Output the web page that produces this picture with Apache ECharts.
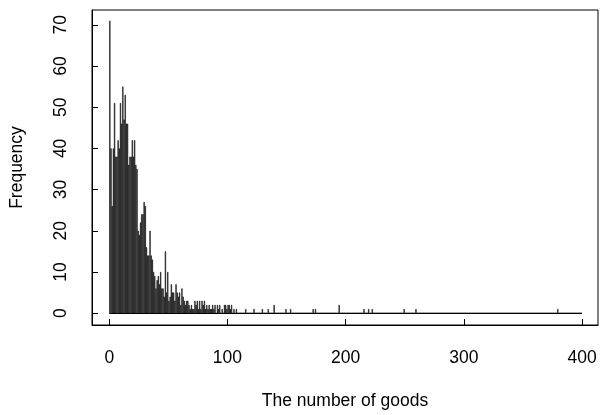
<!DOCTYPE html>
<html>
<head>
<meta charset="utf-8">
<script src="https://cdn.jsdelivr.net/npm/echarts@6/dist/echarts.min.js"></script>
<style>
  html, body { margin: 0; padding: 0; background: #fff; }
  #chart { width: 600px; height: 415px; }
</style>
</head>
<body>
<div id="chart"></div>
<script>
// Histogram of the number of goods, unit-width bins from 0 to 400.
const histStart = 0;
const histEnd = 400;
const binWidth = 1;

// Counts for the first bins (0, 1, 2, ... 105)
const headCounts = [
  71, 40, 26, 40, 51, 38, 38, 42, 40, 51,
  46, 55, 47, 53, 46, 46, 36, 38, 38, 42,
  38, 42, 36, 35, 20, 19, 22, 24, 24, 27,
  26, 16, 14, 14, 20, 14, 13, 10, 9, 6,
  8, 9, 7, 10, 6, 6, 4, 15, 5, 10,
  3, 4, 7, 5, 5, 3, 7, 5, 4, 5,
  2, 6, 4, 3, 2, 3, 3, 2, 1, 2,
  1, 1, 3, 2, 3, 1, 3, 1, 3, 2,
  3, 1, 2, 1, 2, 1, 1, 2, 1, 2,
  0, 2, 1, 2, 0, 1, 0, 2, 2, 1,
  2, 2, 1, 2, 0, 1
];

// Sparse long tail: bin start and its count (all other bins are empty)
const tailBins   = [107, 115, 122, 129, 134, 139, 149, 153, 172, 174, 194, 215, 219, 222, 249, 259, 379];
const tailCounts = [1,   1,   1,   1,   1,   2,   1,   1,   1,   1,   2,   1,   1,   1,   1,   1,   1];

// Axis tick values
const xTicks = [0, 100, 200, 300, 400];
const yTicks = [0, 10, 20, 30, 40, 50, 60, 70];

// Full count vector for every bin
const nBins = Math.round((histEnd - histStart) / binWidth);
const counts = new Array(nBins).fill(0);
headCounts.forEach((c, i) => { counts[i] = c; });
tailBins.forEach((b, i) => { counts[Math.round((b - histStart) / binWidth)] = tailCounts[i]; });

const barData = counts.map((c, i) => [histStart + (i + 0.5) * binWidth, c]);

const font = 'Liberation Sans, Arial, Helvetica, sans-serif';
const fontSize = 17.5;

const chart = echarts.init(document.getElementById('chart'), null, { renderer: 'canvas' });
chart.setOption({
  animation: false,
  backgroundColor: '#fff',
  grid: {
    left: 91, right: 2, top: 10, bottom: 86,
    show: true, borderColor: '#000', borderWidth: 1,
    backgroundColor: 'transparent'
  },
  xAxis: {
    type: 'value',
    min: -14.6,
    max: 413.5,
    name: 'The number of goods',
    nameLocation: 'middle',
    nameGap: 67,
    nameTextStyle: { fontFamily: font, fontSize: fontSize, color: '#000' },
    axisLine: { show: true, onZero: false, lineStyle: { color: '#000', width: 1 } },
    axisTick: { show: true, inside: true, length: 6, customValues: xTicks, lineStyle: { color: '#000' } },
    axisLabel: { customValues: xTicks, margin: 24, fontFamily: font, fontSize: fontSize, color: '#000' },
    splitLine: { show: false }
  },
  yAxis: {
    type: 'value',
    min: -2.88,
    max: 73.6,
    name: 'Frequency',
    nameLocation: 'middle',
    nameGap: 66,
    nameTextStyle: { fontFamily: font, fontSize: fontSize, color: '#000' },
    axisLine: { show: true, onZero: false, lineStyle: { color: '#000', width: 1 } },
    axisTick: { show: true, inside: true, length: 6, customValues: yTicks, lineStyle: { color: '#000' } },
    axisLabel: { customValues: yTicks, rotate: 90, margin: 22, fontFamily: font, fontSize: fontSize, color: '#000' },
    splitLine: { show: false }
  },
  series: [{
    type: 'bar',
    data: barData,
    barWidth: '100%',
    barGap: '0%',
    itemStyle: { color: '#3a3a3a', borderColor: '#000', borderWidth: 0.5 },
    markLine: {
      silent: true,
      symbol: 'none',
      label: { show: false },
      lineStyle: { color: '#000', width: 1, type: 'solid' },
      data: [[{ coord: [histStart, 0] }, { coord: [histEnd, 0] }]]
    }
  }]
});
</script>
</body>
</html>
